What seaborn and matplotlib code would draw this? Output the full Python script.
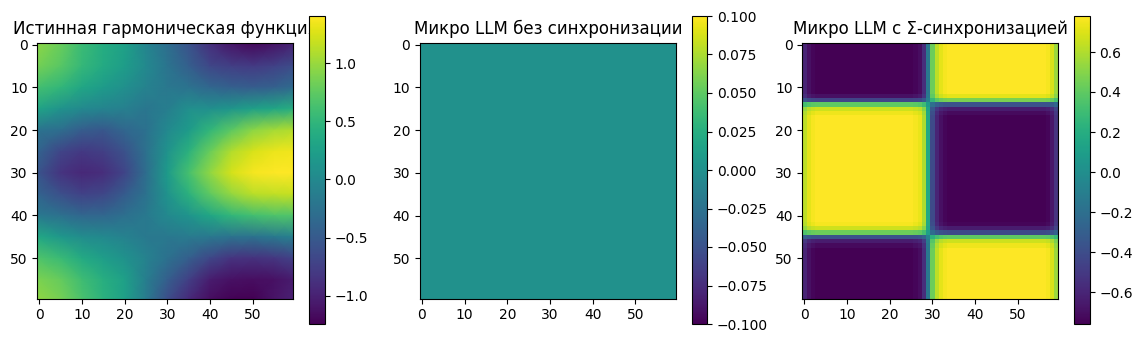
import numpy as np
import matplotlib
matplotlib.use("Agg")
import matplotlib.pyplot as plt
import seaborn as sns

# ---------------- data ----------------
titles = ["Истинная гармоническая функция",
          "Микро LLM без синхронизации",
          "Микро LLM с Σ-синхронизацией"]

grid_size = 60
tick_values = [0, 10, 20, 30, 40, 50]

# Panel 1: true harmonic function, values read on a coarse grid (rows x cols)
sample_rows = [0, 5, 10, 15, 20, 25, 30, 35, 40, 45, 50, 55, 59]
sample_cols = [0, 5, 10, 15, 20, 25, 30, 35, 40, 45, 50, 55, 59]
true_values = [
    [0.96, 0.80, 0.56, 0.40, 0.27, -0.05, -0.30, -0.58, -0.90, -1.10, -1.20, -1.12, -1.00],
    [0.85, 0.72, 0.52, 0.37, 0.22, 0.00, -0.22, -0.45, -0.68, -0.75, -0.78, -0.72, -0.63],
    [0.61, 0.50, 0.33, 0.20, 0.08, -0.07, -0.18, -0.23, -0.37, -0.44, -0.47, -0.43, -0.33],
    [0.30, 0.12, 0.00, -0.05, -0.10, -0.20, -0.12, 0.08, 0.08, 0.15, 0.25, 0.33, 0.42],
    [-0.22, -0.30, -0.47, -0.52, -0.37, -0.25, 0.00, 0.20, 0.50, 0.74, 0.95, 1.05, 1.10],
    [-0.40, -0.70, -0.80, -0.75, -0.58, -0.27, 0.12, 0.45, 0.80, 1.10, 1.25, 1.33, 1.35],
    [-0.55, -0.85, -0.95, -0.90, -0.70, -0.30, 0.20, 0.62, 0.97, 1.24, 1.37, 1.407, 1.40],
    [-0.40, -0.60, -0.72, -0.68, -0.48, -0.24, 0.12, 0.45, 0.75, 0.98, 1.12, 1.15, 1.17],
    [-0.17, -0.27, -0.37, -0.37, -0.28, -0.17, 0.00, 0.13, 0.33, 0.50, 0.60, 0.67, 0.68],
    [0.35, 0.17, 0.05, 0.00, -0.07, -0.17, -0.18, -0.15, -0.18, -0.23, -0.24, -0.17, -0.10],
    [0.68, 0.55, 0.37, 0.23, 0.10, -0.07, -0.26, -0.45, -0.68, -0.85, -0.87, -0.82, -0.72],
    [0.88, 0.78, 0.58, 0.42, 0.25, -0.12, -0.45, -0.75, -1.03, -1.12, -1.15, -1.13, -1.04],
    [0.97, 0.85, 0.65, 0.45, 0.25, -0.15, -0.62, -0.93, -1.15, -1.23, -1.244, -1.10, -1.00],
]

# Panel 2: model without synchronisation outputs a constant
no_sync_value = 0.0

# Panel 3: model with Σ-synchronisation — row and column sign profiles
sync_amplitude = 0.77
sync_offset = 0.01
sync_row_profile = [
    1.0, 1.0, 1.0, 1.0, 1.0, 1.0, 1.0, 1.0, 1.0, 1.0,
    1.0, 1.0, 0.92, 0.6, -0.5, -0.85, -0.95, -1.0, -1.0, -1.0,
    -1.0, -1.0, -1.0, -1.0, -1.0, -1.0, -1.0, -1.0, -1.0, -1.0,
    -1.0, -1.0, -1.0, -1.0, -1.0, -1.0, -1.0, -1.0, -1.0, -1.0,
    -1.0, -1.0, -0.97, -0.85, -0.55, 0.5, 0.85, 0.95, 1.0, 1.0,
    1.0, 1.0, 1.0, 1.0, 1.0, 1.0, 1.0, 1.0, 1.0, 1.0,
]
sync_col_profile = [
    -0.80, -0.92, -0.97, -1.0, -1.0, -1.0, -1.0, -1.0, -1.0, -1.0,
    -1.0, -1.0, -1.0, -1.0, -1.0, -1.0, -1.0, -1.0, -1.0, -1.0,
    -1.0, -1.0, -1.0, -1.0, -1.0, -1.0, -0.97, -0.93, -0.75, -0.2,
    0.55, 0.8, 0.92, 0.97, 1.0, 1.0, 1.0, 1.0, 1.0, 1.0,
    1.0, 1.0, 1.0, 1.0, 1.0, 1.0, 1.0, 1.0, 1.0, 1.0,
    1.0, 1.0, 1.0, 1.0, 1.0, 1.0, 1.0, 0.97, 0.88, 0.70,
]

# ---------------- figure ----------------
W, H = 1143, 342
fig = plt.figure(figsize=(W / 100, H / 100), dpi=100)

img_left0, img_top, img_size, step = 37.3, 42.7, 256.0, 382.5
cb_left0, cb_top, cb_w, cb_h = 309.3, 16.0, 15.4, 308.0


def px_axes(left, top, w, h):
    return fig.add_axes([left / W, (H - top - h) / H, w / W, h / H])


axes, caxes = [], []
for i in range(3):
    axes.append(px_axes(img_left0 + step * i, img_top, img_size, img_size))
for i in range(3):
    caxes.append(px_axes(cb_left0 + step * i, cb_top, cb_w, cb_h))

# Panel 1
ax = axes[0]
xs = np.array(sample_cols, dtype=float)
ys = np.array(sample_rows, dtype=float)
xs[0] -= 0.5
xs[-1] += 0.5
ys[0] -= 0.5
ys[-1] += 0.5
mesh = ax.pcolormesh(xs, ys, np.array(true_values), shading="gouraud", cmap="viridis")
ax.set_xlim(-0.5, grid_size - 0.5)
ax.set_ylim(grid_size - 0.5, -0.5)
ax.set_xticks(tick_values)
ax.set_yticks(tick_values)
ax.set_title(titles[0])
fig.colorbar(mesh, cax=caxes[0])

# Panels 2 and 3 via seaborn heatmap
no_sync = np.full((grid_size, grid_size), no_sync_value)
with_sync = sync_amplitude * np.outer(sync_row_profile, sync_col_profile) + sync_offset

for ax, cax, data, title in [(axes[1], caxes[1], no_sync, titles[1]),
                             (axes[2], caxes[2], with_sync, titles[2])]:
    sns.heatmap(data, ax=ax, cmap="viridis", cbar_ax=cax, xticklabels=False, yticklabels=False)
    ax.set_xticks(np.array(tick_values) + 0.5)
    ax.set_xticklabels([str(t) for t in tick_values], rotation=0)
    ax.set_yticks(np.array(tick_values) + 0.5)
    ax.set_yticklabels([str(t) for t in tick_values], rotation=0)
    ax.tick_params(left=True, bottom=True, length=3.5, width=0.8)
    for s in ax.spines.values():
        s.set_visible(True)
        s.set_linewidth(0.8)
        s.set_color("black")
    ax.set_title(title)
    cb = ax.collections[0].colorbar
    cb.outline.set_linewidth(0.8)
    cb.outline.set_edgecolor("black")

fig.savefig("out.png", dpi=100)
